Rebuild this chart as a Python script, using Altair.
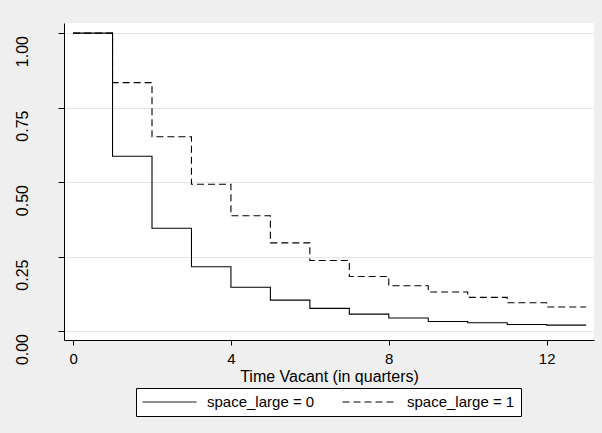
import altair as alt
import pandas as pd

# Kaplan-Meier style survival estimates
times = [0, 1, 2, 3, 4, 5, 6, 7, 8, 9, 10, 11, 12]
end_time = 13
surv_small = [1.0, 0.587, 0.345, 0.216, 0.147, 0.104, 0.076, 0.057, 0.044, 0.032, 0.028, 0.022, 0.020]
surv_large = [1.0, 0.834, 0.652, 0.493, 0.387, 0.296, 0.237, 0.183, 0.152, 0.131, 0.113, 0.095, 0.081]
groups = ["space_large = 0", "space_large = 1"]
x_ticks = [0, 4, 8, 12]
y_ticks = [0, 0.25, 0.5, 0.75, 1.0]

rows = []
for g, series in zip(groups, [surv_small, surv_large]):
    for t, s in zip(times, series):
        rows.append({"t": t, "s": s, "g": g})
    rows.append({"t": end_time, "s": series[-1], "g": g})
df = pd.DataFrame(rows)

FONT = "Liberation Sans"

chart = alt.Chart(df).mark_line(
    interpolate="step-after", color="black", strokeWidth=1.1
).encode(
    x=alt.X("t:Q",
            scale=alt.Scale(domain=[-0.23, 13.2], nice=False, zero=False),
            axis=alt.Axis(values=x_ticks, title="Time Vacant (in quarters)",
                          grid=False, labelFontSize=15, titleFontSize=16,
                          titleFontWeight="normal", tickSize=5,
                          labelPadding=6, titlePadding=2,
                          domainColor="black", tickColor="black",
                          labelColor="black", titleColor="black",
                          labelFont=FONT, titleFont=FONT, format="d")),
    y=alt.Y("s:Q",
            scale=alt.Scale(domain=[-0.03, 1.034], nice=False, zero=False),
            axis=alt.Axis(values=y_ticks, title=None, format=".2f",
                          grid=True, gridColor="#E6E6E6", gridWidth=1,
                          labelAngle=-90, labelFontSize=16, tickSize=6,
                          labelPadding=28, labelOffset=18, labelFont=FONT,
                          domainColor="black", tickColor="black",
                          labelColor="black")),
    strokeDash=alt.StrokeDash(
        "g:N",
        scale=alt.Scale(domain=groups, range=[[1, 0], [7, 4]]),
        legend=alt.Legend(title=None, orient="none", legendX=72, legendY=365,
                          direction="horizontal", columns=2,
                          symbolType="stroke", symbolSize=2916,
                          symbolStrokeWidth=1, symbolStrokeColor="black",
                          clipHeight=16,
                          labelFontSize=15, labelFont=FONT, labelColor="black",
                          labelOffset=10, columnPadding=27, padding=6,
                          fillColor="white", strokeColor="black"),
    ),
).properties(
    width=530,
    height=317,
    background="#EFEFEF",
    padding={"left": 64, "top": 23, "right": 8, "bottom": 93},
    autosize=alt.AutoSizeParams(type="none"),
).configure_view(
    fill="white", stroke=None
)

chart.save("out.html", embed_options={"renderer": "svg", "actions": False})
